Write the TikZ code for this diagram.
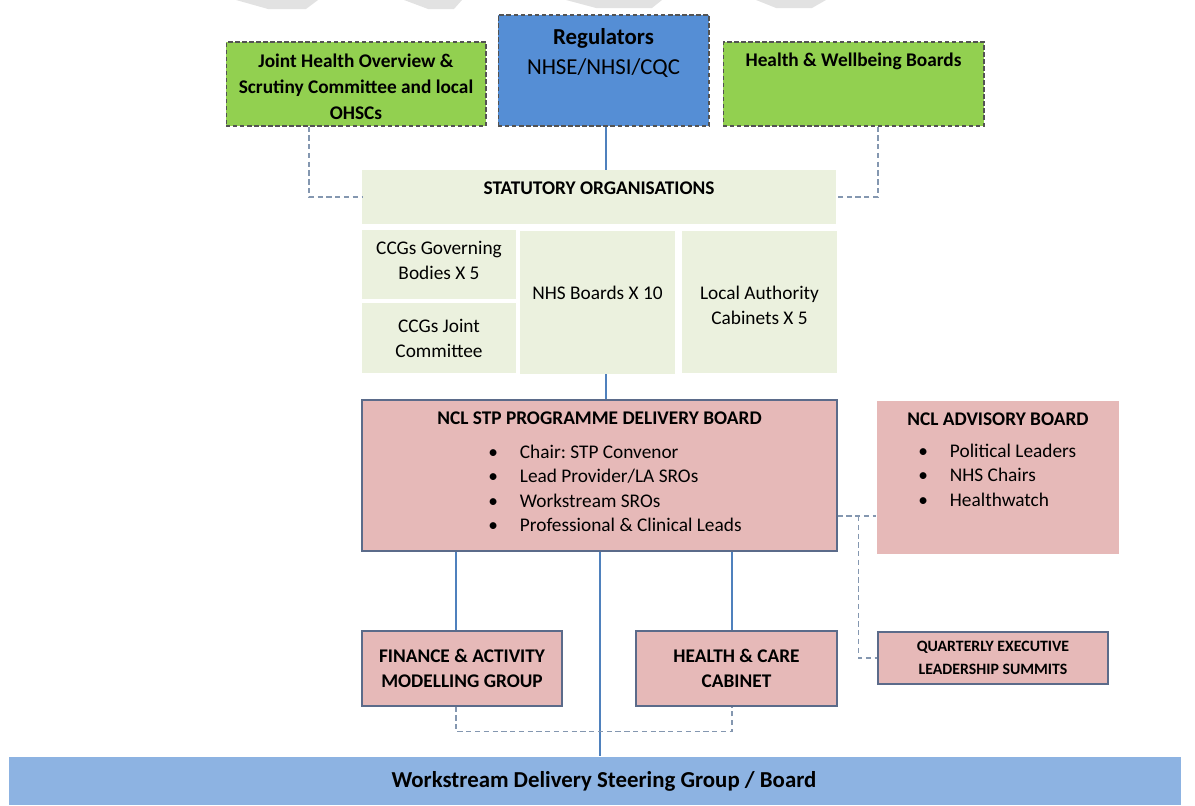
\documentclass[tikz,border=0pt]{standalone}
\usepackage{fontspec}
\setmainfont{Carlito}
\usepackage{tikz}
\usetikzlibrary{positioning, calc}
\frenchspacing

\definecolor{hgreen}{HTML}{92D050}
\definecolor{regblue}{HTML}{558ED5}
\definecolor{statfill}{HTML}{EBF1DE}
\definecolor{pinkfill}{HTML}{E6B9B8}
\definecolor{wsblue}{HTML}{8DB3E2}
\definecolor{edgeblue}{HTML}{5B6B8A}
\definecolor{linkblue}{HTML}{4F81BD}
\definecolor{dashgray}{HTML}{8497B0}
\definecolor{wmark}{HTML}{E2E2E2}

\begin{document}
\begin{tikzpicture}[
    x=0.02cm, y=-0.02cm,
    box/.style={draw=edgeblue, line width=0.7pt, fill=pinkfill, align=center, inner sep=0pt,
                font=\bfseries\fontsize{11}{14.5}\selectfont},
    topbox/.style={draw=gray!65!black, dash pattern=on 2.5pt off 1.5pt, line width=0.6pt,
                   inner sep=0pt, align=center},
    statbox/.style={fill=statfill, inner sep=0pt, align=center, font=\fontsize{11}{14.3}\selectfont},
    lbl/.style={font=\bfseries\fontsize{11}{14.5}\selectfont, align=center},
    bul/.style={font=\fontsize{11}{14}\selectfont, align=left, anchor=west, inner sep=0pt},
    link/.style={linkblue, line width=0.6pt},
    dlink/.style={dashgray, dash pattern=on 3pt off 2pt, line width=0.6pt},
]
\useasboundingbox (0,0) rectangle (1195,805);

% faint marks along the top edge
\fill[wmark] (236,0) -- (318,0) -- (306,9) -- (268,9) -- cycle;
\fill[wmark] (404,0) -- (462,0) -- (454,9) -- (428,9) -- cycle;
\fill[wmark] (566,0) -- (662,0) -- (652,8) -- (596,8) -- cycle;
\fill[wmark] (756,0) -- (826,0) -- (812,8) -- (776,8) -- cycle;

% top row
\node[topbox, fill=hgreen, minimum width=5.2cm, minimum height=1.68cm] (jhosc) at (356,84) {};
\node[lbl, font=\bfseries\fontsize{11}{14.8}\selectfont] (jhosct) at (356,87)
      {Joint Health Overview \&\\Scrutiny Committee and local\\OHSCs};
\node[topbox, fill=regblue, minimum width=4.22cm, minimum height=2.22cm] (reg) at (603.5,70.5) {};
\node[font=\fontsize{13}{17}\selectfont, align=center] (regt) at (603.5,53)
      {\textbf{Regulators}\\NHSE/NHSI/CQC};
\node[topbox, fill=hgreen, minimum width=5.22cm, minimum height=1.68cm] (hwb) at (853.5,84) {};
\node[lbl] (hwbt) at (853.5,61) {Health \& Wellbeing Boards};

% statutory organisations
\node[statbox, minimum width=9.48cm, minimum height=1.08cm] (stat) at (599,197) {};
\node[lbl] (statt) at (599,188) {STATUTORY ORGANISATIONS};
\node[statbox, minimum width=3.08cm, minimum height=1.38cm] (ccggb) at (439,264.5) {};
\node[font=\fontsize{11}{14.3}\selectfont, align=center] (ccggbt) at (439,260.5) {CCGs Governing\\Bodies X 5};
\node[statbox, minimum width=3.08cm, minimum height=1.4cm] (ccgjc) at (439,338) {CCGs Joint\\Committee};
\node[statbox, minimum width=3.1cm, minimum height=2.86cm] (nhsb) at (597.5,302.5) {};
\node[font=\fontsize{11}{14.3}\selectfont] (nhsbt) at (597.5,293) {NHS Boards X 10};
\node[statbox, minimum width=3.1cm, minimum height=2.84cm] (lac) at (759.5,302) {};
\node[font=\fontsize{11}{14.3}\selectfont, align=center] (lact) at (759.5,305.5) {Local Authority\\Cabinets X 5};

% programme board and advisory board
\node[box, minimum width=9.5cm, minimum height=3.02cm] (stp) at (599.5,475.5) {};
\node[lbl] (stpt) at (599.5,418) {NCL STP PROGRAMME DELIVERY BOARD};
\node[bul] (stpl) at (488,490) {\begin{tabular}{@{}c@{\hspace{12.5pt}}l@{}}
  • & Chair: STP Convenor\\
  • & Lead Provider/LA SROs\\
  • & Workstream SROs\\
  • & Professional \& Clinical Leads
\end{tabular}};
\node[box, draw=none, minimum width=4.84cm, minimum height=3.06cm] (adv) at (998,477.5) {};
\node[lbl] (advt) at (998,419) {NCL ADVISORY BOARD};
\node[bul] (advl) at (918,477) {\begin{tabular}{@{}c@{\hspace{12.5pt}}l@{}}
  • & Political Leaders\\
  • & NHS Chairs\\
  • & Healthwatch
\end{tabular}};

% groups
\node[box, minimum width=4.0cm, minimum height=1.5cm] (fin) at (462,668.5) {FINANCE \& ACTIVITY\\MODELLING GROUP};
\node[box, minimum width=4.02cm, minimum height=1.5cm] (hcc) at (736.5,668.5) {HEALTH \& CARE\\CABINET};
\node[box, minimum width=4.6cm, minimum height=1.04cm, font=\bfseries\fontsize{9}{13}\selectfont] (qels) at (993,658)
      {QUARTERLY EXECUTIVE\\LEADERSHIP SUMMITS};
\node[box, draw=none, fill=wsblue, minimum width=23.44cm, minimum height=0.96cm] (wsg) at (595,781) {};
\node[lbl, font=\bfseries\fontsize{13}{16}\selectfont] (wsgt) at (604,781) {Workstream Delivery Steering Group / Board};

% solid links
\draw[link] ([xshift=0.05cm]reg.south) -- ([xshift=0.05cm]reg.south |- stat.north);
\draw[link] ([xshift=0.17cm]nhsb.south) -- ([xshift=0.17cm]nhsb.south |- stp.north);
\draw[link] ([xshift=-0.12cm]fin.north) -- ([xshift=-0.12cm]fin.north |- stp.south);
\draw[link] ([xshift=-0.09cm]hcc.north) -- ([xshift=-0.09cm]hcc.north |- stp.south);
\draw[link] ([xshift=0.01cm]stp.south) -- ([xshift=0.01cm]stp.south |- wsg.north);

% dashed links
\draw[dlink] ([xshift=-0.94cm]jhosc.south) |- (stat.west);
\draw[dlink] ([xshift=0.49cm]hwb.south) |- (stat.east);
\draw[dlink] ([yshift=-0.81cm]stp.east) coordinate (tap) -- (tap -| adv.west);
\draw[dlink] ([xshift=0.42cm]tap) |- (qels.west);
\draw[dlink] ([xshift=-0.12cm]fin.south) -- ++(0,25) -| ([xshift=-0.09cm]hcc.south);
\end{tikzpicture}
\end{document}
